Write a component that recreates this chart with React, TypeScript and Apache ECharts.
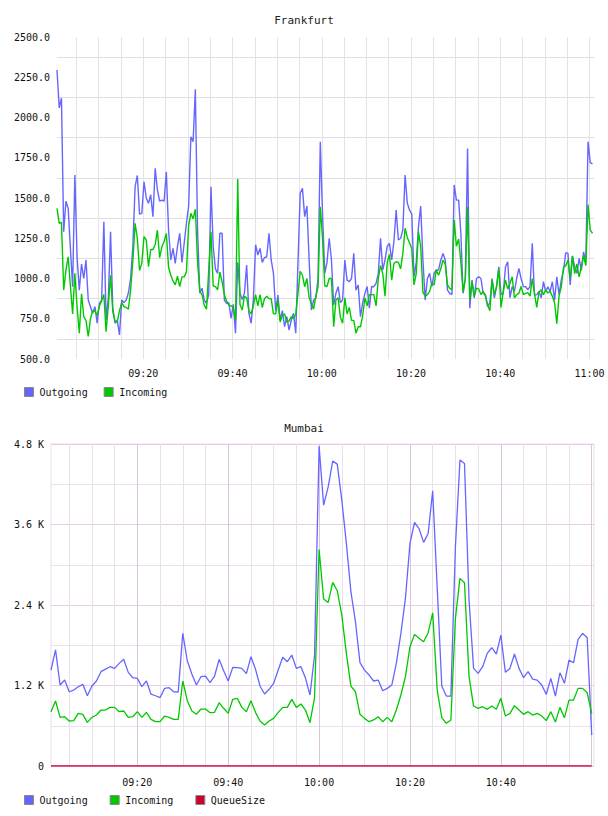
import React, { useEffect, useRef } from "react";
import * as echarts from "echarts";

// Frankfurt samples: every 30 s from 09:00:40 (seconds after midnight)
const FRANKFURT_START = 32440;
const FRANKFURT_STEP = 30;
const FRANKFURT_END = 39660;

const frankfurtOutgoing = [
  2295, 2060, 2120, 1290, 1480, 1436, 1190, 949, 1643, 1135,
  928, 1090, 1000, 1115, 866, 825, 784, 825, 722, 846,
  866, 1353, 742, 880, 1290, 820, 722, 742, 650, 866,
  850, 866, 910, 1001, 1200, 1570, 1640, 1400, 1405, 1601,
  1500, 1467, 1520, 1384, 1684, 1550, 1480, 1487, 1480, 1663,
  1300, 1115, 1187, 1094, 1200, 1281, 1100, 1218, 1343, 1450,
  1880, 1850, 2175, 1300, 908, 940, 866, 846, 900, 1570,
  1200, 1060, 1032, 1281, 1281, 866, 846, 850, 753, 840,
  660, 1100, 908, 870, 908, 1084, 784, 722, 866, 1210,
  1146, 1187, 1100, 1130, 1135, 1281, 1115, 1032, 800, 897,
  742, 800, 701, 763, 680, 742, 784, 660, 1100, 1529,
  1560, 1384, 1450, 1115, 804, 866, 877, 1000, 1850, 1400,
  1032, 1100, 1250, 1115, 835, 908, 949, 850, 866, 1115,
  990, 980, 1000, 1156, 928, 960, 763, 850, 908, 950,
  815, 950, 949, 970, 1032, 1250, 1053, 1115, 1200, 1218,
  1115, 1230, 1425, 1239, 1250, 1301, 1643, 1467, 1425, 1400,
  1011, 1100, 1322, 1450, 1115, 866, 1000, 1032, 949, 1032,
  1053, 1053, 1115, 1156, 1115, 928, 908, 900, 1581, 1487,
  1487, 1280, 908, 1000, 1808, 815, 990, 880, 1000, 1011,
  1000, 908, 900, 825, 850, 1000, 880, 949, 1073, 900,
  908, 1073, 1104, 880, 949, 920, 1000, 1063, 1000, 950,
  949, 930, 950, 1218, 897, 900, 920, 880, 980, 920,
  949, 918, 980, 866, 1011, 900, 990, 1050, 1160, 1156,
  960, 1140, 1073, 1032, 1125, 1050, 1166, 1100, 1850, 1720,
  1711,
];

const frankfurtIncoming = [
  1436, 1343, 1350, 928, 1050, 1135, 955, 780, 1032, 825,
  660, 905, 763, 740, 640, 750, 800, 797, 770, 830,
  860, 900, 670, 830, 1020, 795, 735, 730, 800, 850,
  825, 820, 810, 930, 1110, 1343, 1250, 1050, 1094, 1260,
  1240, 1073, 1180, 1180, 1210, 1300, 1130, 1197, 1230, 1280,
  1070, 1020, 985, 960, 1015, 950, 1010, 1010, 1040, 1330,
  1405, 1370, 1430, 1100, 920, 900, 835, 810, 1050, 1290,
  955, 950, 930, 1040, 980, 900, 860, 835, 830, 820,
  742, 1618, 840, 804, 890, 880, 800, 780, 830, 900,
  830, 900, 820, 875, 890, 875, 875, 780, 780, 866,
  730, 770, 780, 730, 735, 763, 750, 780, 908, 1045,
  1020, 949, 1000, 880, 846, 810, 890, 949, 1446, 1250,
  955, 950, 1000, 1000, 700, 866, 880, 760, 722, 880,
  780, 820, 740, 740, 660, 700, 700, 770, 880, 830,
  900, 900, 900, 830, 1000, 1080, 1030, 890, 1100, 1150,
  990, 1094, 1104, 1100, 1060, 1156, 1312, 1255, 1220, 1185,
  960, 1030, 1290, 1200, 915, 890, 900, 920, 970, 960,
  1053, 1020, 1060, 1115, 1090, 960, 939, 930, 1363, 1200,
  1245, 1100, 915, 1000, 1446, 866, 980, 890, 940, 935,
  900, 920, 890, 835, 800, 990, 900, 950, 1060, 820,
  920, 990, 935, 970, 1011, 880, 900, 908, 950, 900,
  908, 912, 890, 1000, 908, 820, 915, 930, 900, 930,
  910, 920, 890, 850, 720, 890, 949, 1070, 1080, 1115,
  1000, 1140, 1030, 1090, 1010, 1073, 1140, 1080, 1460, 1300,
  1281,
];

const frankfurtTimeLabels = ["09:20", "09:40", "10:00", "10:20", "10:40", "11:00"];
const frankfurtValueLabels = [500, 750, 1000, 1250, 1500, 1750, 2000, 2250, 2500];

// Mumbai samples: one per minute from 09:01
const MUMBAI_START = 32460;
const MUMBAI_STEP = 60;
const MUMBAI_END = 39630;

const mumbaiOutgoing = [
  1430, 1730, 1207, 1282, 1107, 1132, 1182, 1217, 1047, 1192,
  1267, 1406, 1445, 1480, 1455, 1530, 1590, 1396, 1316, 1306,
  1182, 1267, 1073, 1047, 1018, 1157, 1167, 1107, 1103, 1977,
  1565, 1371, 1207, 1331, 1341, 1242, 1341, 1590, 1420, 1267,
  1470, 1465, 1455, 1376, 1629, 1445, 1192, 1073, 1143, 1232,
  1430, 1620, 1555, 1654, 1455, 1480, 1311, 1058, 1650, 4768,
  3889, 4162, 4545, 4500, 3963, 3318, 2600, 2150, 1540, 1430,
  1356, 1267, 1281, 1122, 1157, 1207, 1530, 1977, 2500, 3318,
  3630, 3540, 3333, 3467, 4102, 2650, 1192, 1043, 1043, 3268,
  4560, 4510, 2470, 1455, 1380, 1480, 1679, 1763, 1669, 1952,
  1396, 1455, 1669, 1455, 1316, 1406, 1296, 1281, 1207, 1068,
  1306, 1043, 1390, 1232, 1579, 1539, 1888, 1977, 1912, 462,
];

const mumbaiIncoming = [
  810, 969, 725, 735, 671, 676, 785, 770, 651, 725,
  760, 834, 834, 874, 874, 810, 820, 725, 735, 810,
  725, 800, 696, 661, 661, 745, 725, 696, 696, 1267,
  973, 820, 770, 849, 849, 795, 800, 943, 860, 785,
  994, 1009, 874, 810, 973, 800, 671, 611, 671, 710,
  800, 874, 874, 994, 874, 924, 834, 646, 1018, 3228,
  2488, 2438, 2737, 2612, 2250, 1679, 1192, 1107, 770, 710,
  661, 686, 735, 661, 725, 661, 834, 1058, 1331, 1778,
  1962, 1903, 1853, 1987, 2284, 1132, 720, 636, 686, 2200,
  2797, 2731, 1331, 894, 860, 884, 845, 894, 845, 1009,
  745, 785, 899, 834, 770, 810, 760, 785, 745, 676,
  810, 656, 874, 720, 983, 983, 1157, 1157, 1092, 785,
];

const mumbaiQueueSize = [
  0, 0, 0, 0, 0, 0, 0, 0, 0, 0,
  0, 0, 0, 0, 0, 0, 0, 0, 0, 0,
  0, 0, 0, 0, 0, 0, 0, 0, 0, 0,
  0, 0, 0, 0, 0, 0, 0, 0, 0, 0,
  0, 0, 0, 0, 0, 0, 0, 0, 0, 0,
  0, 0, 0, 0, 0, 0, 0, 0, 0, 0,
  0, 0, 0, 0, 0, 0, 0, 0, 0, 0,
  0, 0, 0, 0, 0, 0, 0, 0, 0, 0,
  0, 0, 0, 0, 0, 0, 0, 0, 0, 0,
  0, 0, 0, 0, 0, 0, 0, 0, 0, 0,
  0, 0, 0, 0, 0, 0, 0, 0, 0, 0,
  0, 0, 0, 0, 0, 0, 0, 0, 0, 0,
];

const mumbaiTimeLabels = ["09:20", "09:40", "10:00", "10:20", "10:40"];
const mumbaiValueTicks = [0, 1200, 2400, 3600, 4800];
const mumbaiValueLabels = ["0", "1.2 K", "2.4 K", "3.6 K", "4.8 K"];

const BLUE = "#6666ff";
const GREEN = "#00c800";
const RED = "#cc0033";
const FONT = "DejaVu Sans Mono";
const NONE = "rgba(0,0,0,0)";

const pad = (n: number) => (n < 10 ? "0" + n : String(n));
const hhmm = (t: number) => pad(Math.floor(t / 3600)) + ":" + pad(Math.floor((t % 3600) / 60));

const toPairs = (values: number[], start: number, step: number) =>
  values.map((v, i) => [start + i * step, v]);

// split-line colours cycle per tick; pick a colour for each tick of one period
const cycle = (start: number, step: number, count: number, pick: (t: number) => string) => {
  const out: string[] = [];
  for (let k = 0; k < count; k++) out.push(pick(start + k * step));
  return out;
};

export default function App() {
  const ref = useRef<HTMLDivElement>(null);

  useEffect(() => {
    if (!ref.current) return;
    const chart = echarts.init(ref.current, undefined, { renderer: "svg" });

    const labelStyle = { fontFamily: FONT, fontSize: 10, color: "#111" };
    const titleStyle = { fontFamily: FONT, fontSize: 11, fontWeight: "normal", color: "#222" };
    const legendBase = {
      left: 24,
      padding: 0,
      icon: "rect",
      itemWidth: 9,
      itemHeight: 9,
      itemStyle: { borderColor: "#888", borderWidth: 1 },
      textStyle: { fontFamily: FONT, fontSize: 10, color: "#111", padding: [0, 0, 0, 1] },
      selectedMode: false,
    };

    const option: any = {
      animation: false,
      textStyle: { fontFamily: FONT },
      title: [
        { text: "Frankfurt", left: "center", top: 10, textStyle: titleStyle },
        { text: "Mumbai", left: "center", top: 418, textStyle: titleStyle },
      ],
      legend: [
        { ...legendBase, data: ["Outgoing", "Incoming"], top: 387, itemGap: 16 },
        { ...legendBase, data: ["Outgoing", "Incoming", "QueueSize"], top: 795, itemGap: 22 },
      ],
      grid: [
        { left: 57, top: 37, width: 537, height: 322, show: false },
        {
          left: 51,
          top: 444,
          width: 543,
          height: 322,
          show: true,
          borderColor: "#eddbed",
          borderWidth: 1,
        },
      ],
      xAxis: [
        {
          type: "value",
          gridIndex: 0,
          min: FRANKFURT_START,
          max: FRANKFURT_END,
          interval: 20,
          axisLine: { show: false },
          axisTick: { show: false },
          axisLabel: {
            ...labelStyle,
            margin: 9,
            formatter: (v: number) =>
              v % 300 === 0 && frankfurtTimeLabels.includes(hhmm(v)) ? hhmm(v) : "",
          },
          splitLine: {
            show: true,
            lineStyle: {
              width: 1,
              color: cycle(FRANKFURT_START, 20, 15, (t) => (t % 300 === 0 ? "#e3e3e3" : NONE)),
            },
          },
        },
        {
          type: "value",
          gridIndex: 1,
          min: MUMBAI_START,
          max: MUMBAI_END,
          interval: 60,
          axisLine: { show: false },
          axisTick: { show: false },
          axisLabel: {
            ...labelStyle,
            margin: 11,
            formatter: (v: number) =>
              v % 300 === 0 && mumbaiTimeLabels.includes(hhmm(v)) ? hhmm(v) : "",
          },
          splitLine: {
            show: true,
            lineStyle: {
              width: 1,
              color: cycle(MUMBAI_START, 60, 20, (t) =>
                t % 1200 === 0 ? "#dcc3dc" : t % 300 === 0 ? "#e8e2e8" : NONE
              ),
            },
          },
        },
      ],
      yAxis: [
        {
          type: "value",
          gridIndex: 0,
          min: 500,
          max: 2500,
          interval: 125,
          axisLine: { show: false },
          axisTick: { show: false },
          axisLabel: {
            ...labelStyle,
            margin: 7,
            formatter: (v: number) => (frankfurtValueLabels.includes(v) ? v.toFixed(1) : ""),
          },
          splitLine: { show: true, lineStyle: { width: 1, color: [NONE, "#dedede"] } },
        },
        {
          type: "value",
          gridIndex: 1,
          min: 0,
          max: 4800,
          interval: 600,
          axisLine: { show: false },
          axisTick: { show: false },
          axisLabel: {
            ...labelStyle,
            margin: 7,
            formatter: (v: number) => {
              const i = mumbaiValueTicks.indexOf(v);
              return i >= 0 ? mumbaiValueLabels[i] : "";
            },
          },
          splitLine: { show: true, lineStyle: { width: 1, color: ["#e6cde6", "#e8e2ea"] } },
        },
      ],
      series: [
        {
          name: "Outgoing",
          type: "line",
          xAxisIndex: 0,
          yAxisIndex: 0,
          data: toPairs(frankfurtOutgoing, FRANKFURT_START, FRANKFURT_STEP),
          showSymbol: false,
          lineStyle: { width: 1.4, color: BLUE },
          itemStyle: { color: BLUE },
        },
        {
          name: "Incoming",
          type: "line",
          xAxisIndex: 0,
          yAxisIndex: 0,
          data: toPairs(frankfurtIncoming, FRANKFURT_START, FRANKFURT_STEP),
          showSymbol: false,
          lineStyle: { width: 1.4, color: GREEN },
          itemStyle: { color: GREEN },
        },
        {
          name: "Outgoing",
          type: "line",
          xAxisIndex: 1,
          yAxisIndex: 1,
          data: toPairs(mumbaiOutgoing, MUMBAI_START, MUMBAI_STEP),
          showSymbol: false,
          lineStyle: { width: 1.3, color: BLUE },
          itemStyle: { color: BLUE },
        },
        {
          name: "Incoming",
          type: "line",
          xAxisIndex: 1,
          yAxisIndex: 1,
          data: toPairs(mumbaiIncoming, MUMBAI_START, MUMBAI_STEP),
          showSymbol: false,
          lineStyle: { width: 1.3, color: GREEN },
          itemStyle: { color: GREEN },
        },
        {
          name: "QueueSize",
          type: "line",
          xAxisIndex: 1,
          yAxisIndex: 1,
          data: toPairs(mumbaiQueueSize, MUMBAI_START, MUMBAI_STEP),
          showSymbol: false,
          lineStyle: { width: 1.3, color: RED },
          itemStyle: { color: RED },
        },
      ],
    };

    chart.setOption(option);
    return () => chart.dispose();
  }, []);

  return (
    <div
      ref={ref}
      style={{ position: "fixed", left: 0, top: 0, width: 608, height: 816, background: "#fff" }}
    />
  );
}
